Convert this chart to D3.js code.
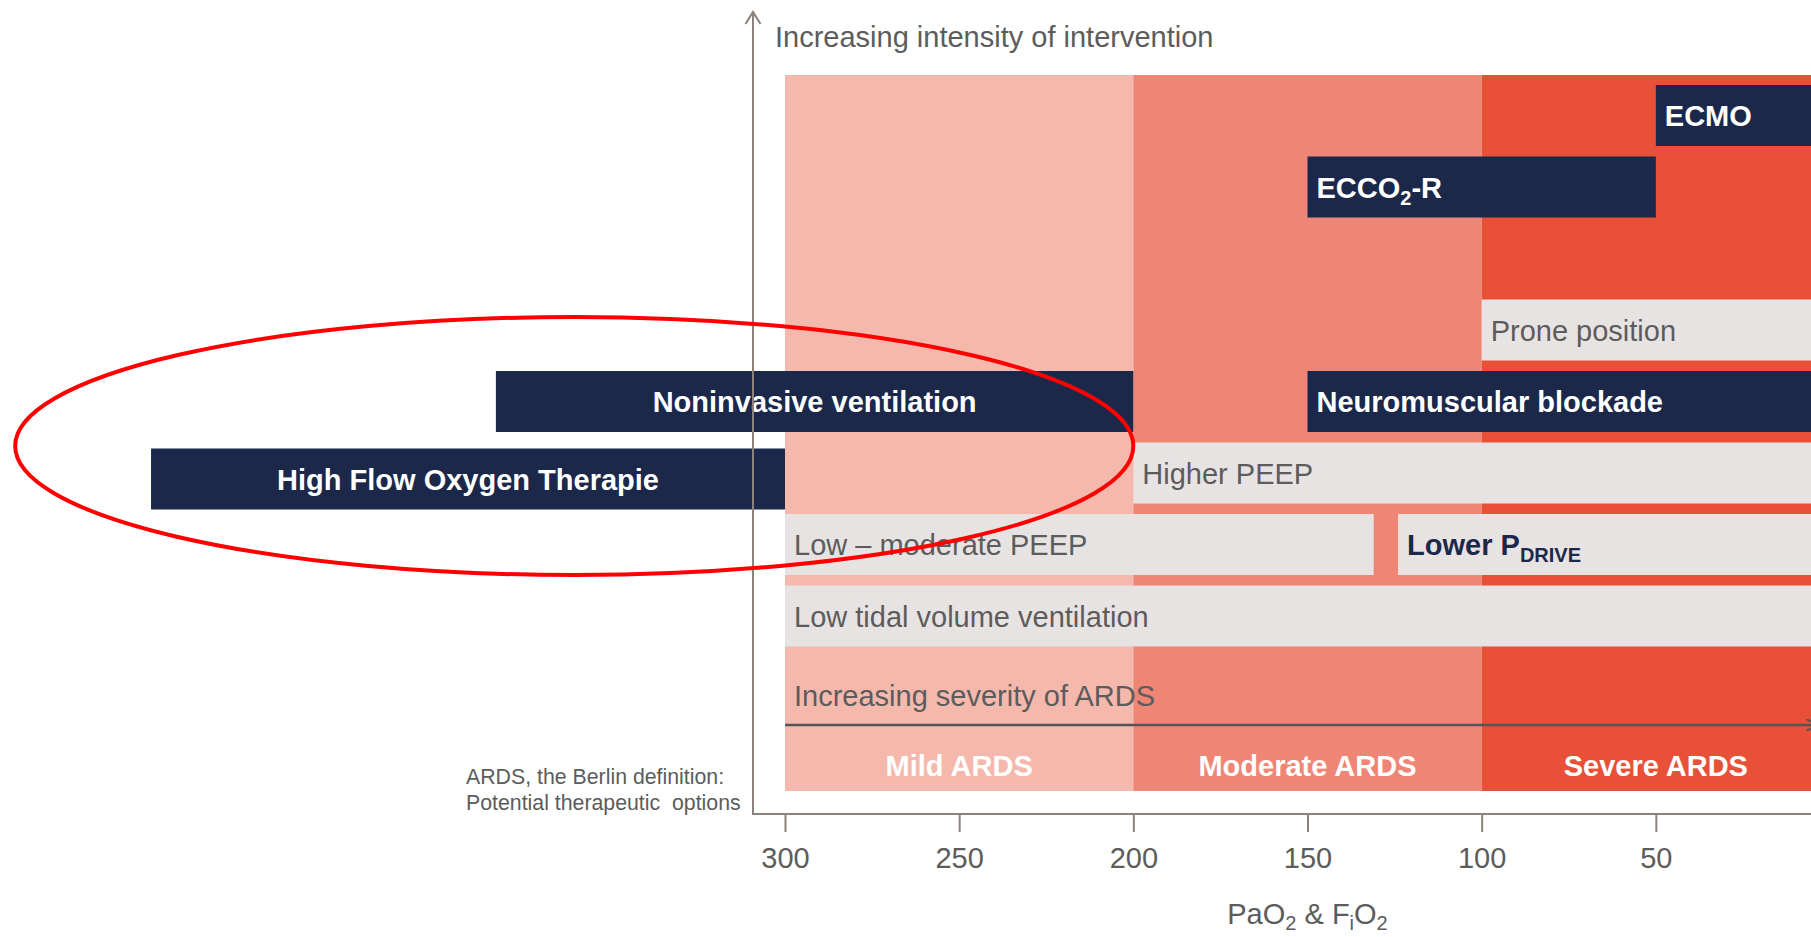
<!DOCTYPE html>
<html>
<head>
<meta charset="utf-8">
<title>ARDS - therapeutic options</title>
<script src="https://d3js.org/d3.v7.min.js"></script>
<style>
  body { margin: 0; background: #fff; }
  svg text { font-family: "Liberation Sans", Arial, sans-serif; }
</style>
</head>
<body>
<div id="chart"></div>
<script>
// severity bands (PaO2/FiO2)
const bandNames = ["Mild ARDS", "Moderate ARDS", "Severe ARDS"];
const bandStart = [300, 200, 100];
const bandEnd = [200, 100, 0];

// therapies: text, range on the PaO2/FiO2 axis, row (0 = top)
// "_{..}" marks a subscript
const therapyNames = ["ECMO", "ECCO_{2}-R", "Prone position", "Noninvasive ventilation",
  "Neuromuscular blockade", "High Flow Oxygen Therapie", "Higher PEEP",
  "Low \u2013 moderate PEEP", "Lower P_{DRIVE}", "Low tidal volume ventilation"];
const therapyStart = [50, 150, 100, 383, 150, 482, 200, 300, 124, 300];
const therapyEnd = [0, 50, 0, 200, 0, 300, 0, 131, 0, 0];
const therapyRow = [0, 1, 3, 4, 4, 5, 5, 6, 6, 7];
const therapyKind = ["dark", "dark", "light", "dark", "dark", "dark", "light", "light", "lightBold", "light"];

const xTicks = [300, 250, 200, 150, 100, 50];

// ellipse round the non-invasive options (PaO2/FiO2 range)
const ringFrom = 521, ringTo = 200;

let width = 1811, height = 937;

let svg = d3.select("#chart")
  .append("svg")
  .attr("width", width)
  .attr("height", height);

let x = d3.scaleLinear().domain([300, 0]).range([785, 1830]);
let rowY = d3.scaleLinear().domain([0, 1]).range([85, 156.5]);
let rowH = 61;
let bandTop = 75, bandBottom = 791;
let axisY = 814, axisX = 753;

const bandColor = ["#F5B8AD", "#EF8574", "#E85037"];
const navy = "#1B284A", light = "#E8E3E3", grayText = "#5C5C5C", axisColor = "#8C817C";

// background bands
svg.selectAll("rect.band")
  .data(bandNames)
  .enter()
  .append("rect")
  .attr("class", "band")
  .attr("x", (d, i) => x(bandStart[i]))
  .attr("width", (d, i) => x(bandEnd[i]) - x(bandStart[i]))
  .attr("y", bandTop)
  .attr("height", bandBottom - bandTop)
  .attr("fill", (d, i) => bandColor[i]);

// writes a label that may hold subscripts
function writeLabel(sel, label, big, small, shift) {
  let parts = label.split(/(_\{[^}]*\})/).filter(p => p.length);
  let down = false;
  parts.forEach(p => {
    if (p.startsWith("_{")) {
      sel.append("tspan").attr("font-size", small).attr("dy", shift).text(p.slice(2, -1));
      down = true;
    } else {
      let t = sel.append("tspan").text(p);
      if (down) { t.attr("dy", -shift); down = false; }
    }
  });
}

// therapy bars
let idx = d3.range(therapyNames.length);
let nudge = { 5: 6 };   // high flow bar sits a little lower

let bars = svg.selectAll("g.therapy")
  .data(idx)
  .enter()
  .append("g")
  .attr("class", "therapy")
  .attr("transform", i => "translate(0," + (rowY(therapyRow[i]) + (nudge[i] || 0)) + ")");

bars.append("rect")
  .attr("x", i => x(therapyStart[i]))
  .attr("width", i => x(therapyEnd[i]) - x(therapyStart[i]))
  .attr("height", rowH)
  .attr("fill", i => therapyKind[i] === "dark" ? navy : light);

bars.append("text")
  .attr("x", i => therapyStart[i] > 300
    ? (x(therapyStart[i]) + x(therapyEnd[i])) / 2
    : x(therapyStart[i]) + 9)
  .attr("y", rowH / 2 + 10.5)
  .attr("text-anchor", i => therapyStart[i] > 300 ? "middle" : "start")
  .attr("font-size", 29)
  .attr("font-weight", i => therapyKind[i] === "light" ? "normal" : "bold")
  .attr("fill", i => therapyKind[i] === "dark" ? "#fff" : therapyKind[i] === "lightBold" ? navy : grayText)
  .each(function(i) { writeLabel(d3.select(this), therapyNames[i], 29, 20, 7); });

// severity arrow
svg.append("defs").append("marker")
  .attr("id", "head")
  .attr("viewBox", "0 0 10 10")
  .attr("refX", 9).attr("refY", 5)
  .attr("markerWidth", 5).attr("markerHeight", 5)
  .attr("orient", "auto")
  .append("path")
  .attr("d", "M0,0 L10,5 L0,10")
  .attr("fill", "none")
  .attr("stroke", "#555")
  .attr("stroke-width", 1.5);

svg.append("text")
  .attr("x", x(300) + 9)
  .attr("y", 706)
  .attr("font-size", 29)
  .attr("fill", grayText)
  .text("Increasing severity of ARDS");

svg.append("line")
  .attr("x1", x(300)).attr("x2", width + 6)
  .attr("y1", 725).attr("y2", 725)
  .attr("stroke", "#555")
  .attr("stroke-width", 2.5)
  .attr("marker-end", "url(#head)");

svg.selectAll("text.bandLabel")
  .data(bandNames)
  .enter()
  .append("text")
  .attr("class", "bandLabel")
  .attr("x", (d, i) => (x(bandStart[i]) + x(bandEnd[i])) / 2)
  .attr("y", 776)
  .attr("text-anchor", "middle")
  .attr("font-size", 29)
  .attr("font-weight", "bold")
  .attr("fill", "#fff")
  .text(d => d);

// x axis
let xAxis = d3.axisBottom(x)
  .tickValues(xTicks)
  .tickSize(18)
  .tickPadding(15);

let gx = svg.append("g")
  .attr("transform", "translate(0," + axisY + ")")
  .call(xAxis);
gx.select(".domain").remove();
gx.selectAll(".tick line").attr("stroke", axisColor).attr("stroke-width", 2);
gx.selectAll(".tick text")
  .attr("font-size", 29)
  .attr("fill", grayText)
  .style("font-family", "'Liberation Sans', Arial, sans-serif");

svg.append("line")
  .attr("x1", axisX).attr("x2", width)
  .attr("y1", axisY).attr("y2", axisY)
  .attr("stroke", axisColor)
  .attr("stroke-width", 2);

// y axis with open arrow
svg.append("line")
  .attr("x1", axisX).attr("x2", axisX)
  .attr("y1", axisY + 1).attr("y2", 12)
  .attr("stroke", axisColor)
  .attr("stroke-width", 2);
svg.append("path")
  .attr("d", "M" + (axisX - 7.5) + ",24 L" + axisX + ",12 L" + (axisX + 7.5) + ",24")
  .attr("fill", "none")
  .attr("stroke", axisColor)
  .attr("stroke-width", 2);

svg.append("text")
  .attr("x", 775)
  .attr("y", 47)
  .attr("font-size", 29)
  .attr("fill", grayText)
  .text("Increasing intensity of intervention");

// x title
let xt = svg.append("text")
  .attr("x", x(150))
  .attr("y", 924)
  .attr("text-anchor", "middle")
  .attr("font-size", 29)
  .attr("fill", grayText);
writeLabel(xt, "PaO_{2} & F_{i}O_{2}", 29, 20, 6);

// caption
let cap = svg.append("text")
  .attr("x", 466)
  .attr("font-size", 21.3)
  .attr("fill", grayText);
cap.append("tspan").attr("x", 466).attr("y", 784).text("ARDS, the Berlin definition:");
cap.append("tspan").attr("x", 466).attr("y", 810).text("Potential therapeutic\u00a0 options");

// red ring
svg.append("ellipse")
  .attr("cx", (x(ringFrom) + x(ringTo)) / 2)
  .attr("cy", 446)
  .attr("rx", (x(ringTo) - x(ringFrom)) / 2)
  .attr("ry", 129)
  .attr("fill", "none")
  .attr("stroke", "#FF0000")
  .attr("stroke-width", 4);
</script>
</body>
</html>
